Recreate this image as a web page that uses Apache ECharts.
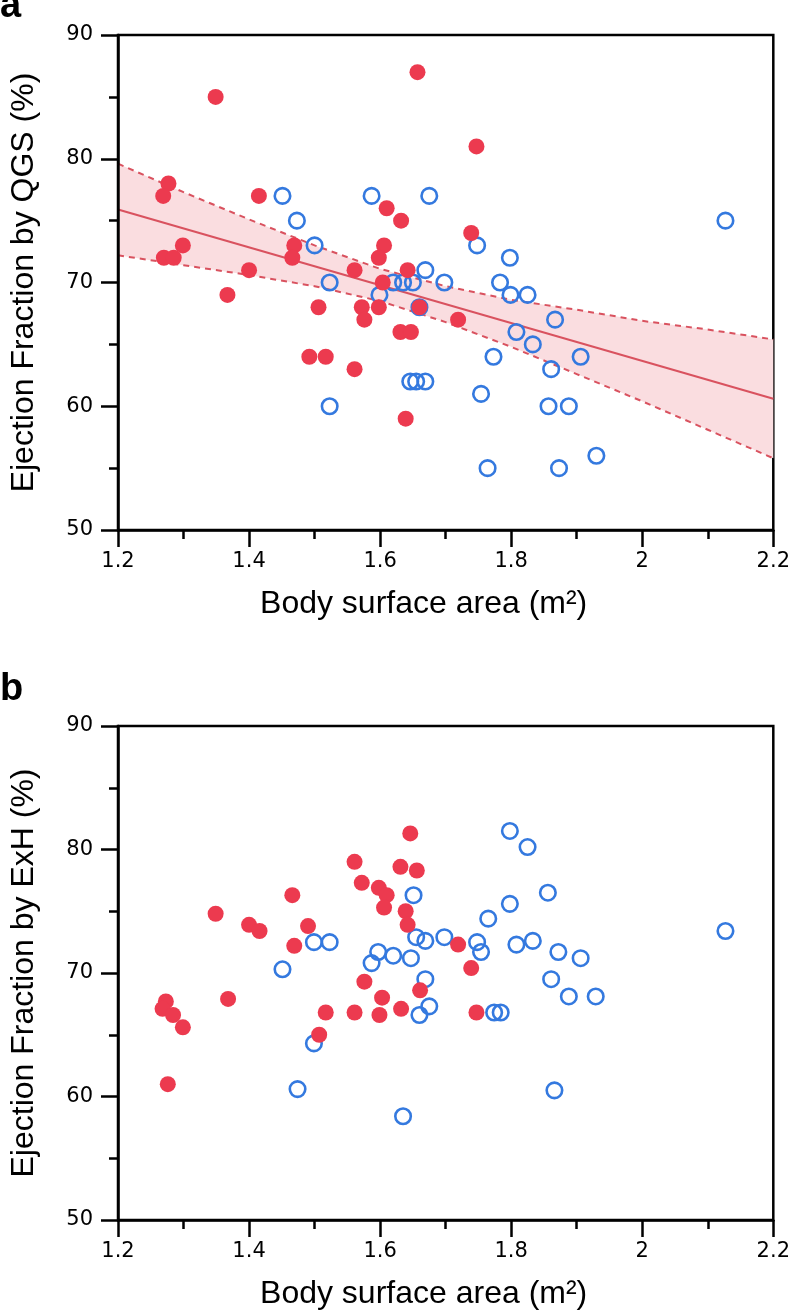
<!DOCTYPE html>
<html><head><meta charset="utf-8">
<script src="https://cdn.jsdelivr.net/npm/echarts@6/dist/echarts.min.js"></script>
<style>html,body{margin:0;padding:0;background:#fff}#c{width:793px;height:1314px}</style>
</head><body><div id="c"></div>
<script>
// ---- tick values ----
const xTickValues = [1.2, 1.4, 1.6, 1.8, 2.0, 2.2];
const yTickValues = [50, 60, 70, 80, 90];

// ---- panel a: EF by QGS ----
const femaleQGS = [
  [1.657,87],[1.349,85],[1.277,78],[1.269,77],[1.415,77],[1.610,76],[1.632,75],
  [1.299,73],[1.469,73],[1.466,72],[1.270,72],[1.285,72],[1.606,73],[1.598,72],
  [1.400,71],[1.561,71],[1.642,71],[1.367,69],[1.604,70],[1.506,68],[1.572,68],
  [1.598,68],[1.660,68],[1.576,67],[1.631,66],[1.647,66],[1.492,64],[1.517,64],
  [1.561,63],[1.639,59],[1.747,81],[1.739,74],[1.719,67]
];
const maleQGS = [
  [1.451,77],[1.587,77],[1.675,77],[1.473,75],[1.500,73],[1.669,71],[1.523,70],
  [1.620,70],[1.635,70],[1.650,70],[1.599,69],[1.660,68],[1.748,73],[1.798,72],
  [1.698,70],[1.783,70],[1.799,69],[1.825,69],[1.867,67],[2.127,75],[1.523,60],
  [1.646,62],[1.655,62],[1.669,62],[1.808,66],[1.833,65],[1.773,64],[1.906,64],
  [1.861,63],[1.754,61],[1.857,60],[1.888,60],[1.930,56],[1.764,55],[1.873,55]
];
// regression line and 95% confidence band
const fitQGS = [[1.2,75.9],[2.2,60.6]];
const ciX = [1.2,1.3,1.4,1.5,1.6,1.7,1.8,1.9,2.0,2.1,2.2];
const ciUpperQGS = [79.6,77.3,75.1,73.0,71.1,69.7,68.6,67.8,66.9,66.2,65.4];
const ciLowerQGS = [72.2,71.4,70.6,69.7,68.5,66.8,64.8,62.6,60.4,58.1,55.8];

// ---- panel b: EF by ExH ----
const femaleExH = [
  [1.646,81.3],[1.561,79.0],[1.631,78.6],[1.656,78.3],[1.572,77.3],[1.598,76.9],
  [1.610,76.3],[1.606,75.3],[1.639,75.0],[1.642,73.9],[1.466,76.3],[1.349,74.8],
  [1.400,73.9],[1.416,73.4],[1.490,73.8],[1.469,72.2],[1.719,72.3],[1.739,70.4],
  [1.576,69.3],[1.661,68.6],[1.603,68.0],[1.273,67.7],[1.268,67.1],[1.368,67.9],
  [1.284,66.6],[1.517,66.8],[1.561,66.8],[1.599,66.6],[1.632,67.1],[1.747,66.8],
  [1.299,65.6],[1.507,65.0],[1.276,61.0]
];
const maleExH = [
  [1.651,76.3],[1.499,72.5],[1.523,72.5],[1.655,72.9],[1.669,72.6],[1.597,71.7],
  [1.620,71.4],[1.647,71.2],[1.587,70.8],[1.451,70.3],[1.698,72.9],[1.798,81.5],
  [1.825,80.2],[1.856,76.5],[1.798,75.6],[1.765,74.4],[1.748,72.5],[1.754,71.7],
  [1.808,72.3],[1.833,72.6],[1.872,71.7],[1.906,71.2],[2.127,73.4],[1.861,69.5],
  [1.669,69.5],[1.888,68.1],[1.929,68.1],[1.675,67.3],[1.660,66.6],[1.774,66.8],
  [1.784,66.8],[1.499,64.3],[1.474,60.6],[1.866,60.5],[1.635,58.4]
];

const xTitle = 'Body surface area (m\u00B2)';
const yTitleA = 'Ejection Fraction by QGS (%)';
const yTitleB = 'Ejection Fraction by ExH (%)';

// ---- styles ----
const RED = '#ec3a4f', BLUE = '#3479df', FIT = '#d9525f', BAND = '#fadde0';
const TITLE_FONT = 'Liberation Sans';
const TICK_FONT = 'DejaVu Sans';

function xAxisDef(gi) {
  return {
    type: 'value', gridIndex: gi, z: 5,
    min: xTickValues[0], max: xTickValues[xTickValues.length - 1],
    interval: xTickValues[1] - xTickValues[0],
    name: xTitle, nameLocation: 'middle', nameGap: 58,
    nameTextStyle: { fontFamily: TITLE_FONT, fontSize: 32, color: '#000', padding: [0, 44, 0, 0] },
    axisLine: { show: true, onZero: false, lineStyle: { color: '#000', width: 2.5 } },
    axisTick: { show: true, length: 17, lineStyle: { color: '#000', width: 2.5 } },
    minorTick: { show: true, splitNumber: 2, length: 9, lineStyle: { color: '#000', width: 2.5 } },
    splitLine: { show: false }, minorSplitLine: { show: false },
    axisLabel: { margin: 21, fontFamily: TICK_FONT, fontSize: 21, color: '#000',
      formatter: v => String(+v.toFixed(1)) }
  };
}
function yAxisDef(gi, title) {
  return {
    type: 'value', gridIndex: gi, z: 5,
    min: yTickValues[0], max: yTickValues[yTickValues.length - 1],
    interval: yTickValues[1] - yTickValues[0],
    name: title, nameLocation: 'middle', nameGap: 78,
    nameTextStyle: { fontFamily: TITLE_FONT, fontSize: 32, color: '#000' },
    axisLine: { show: true, onZero: false, lineStyle: { color: '#000', width: 2.5 } },
    axisTick: { show: true, length: 17, lineStyle: { color: '#000', width: 2.5 } },
    minorTick: { show: true, splitNumber: 2, length: 9, lineStyle: { color: '#000', width: 2.5 } },
    splitLine: { show: false }, minorSplitLine: { show: false },
    axisLabel: { margin: 25, fontFamily: TICK_FONT, fontSize: 21, color: '#000' }
  };
}
function scatter(gi, data, filled, z) {
  return {
    type: 'scatter', xAxisIndex: gi, yAxisIndex: gi, data: data, z: z,
    symbol: 'circle', symbolSize: filled ? 16 : 15.5,
    itemStyle: filled ? { color: RED, opacity: 1 }
                      : { color: 'rgba(255,255,255,0)', borderColor: BLUE, borderWidth: 2.6, opacity: 1 },
    emphasis: { disabled: true }, silent: true
  };
}
const pairs = (xs, ys) => xs.map((x, i) => [x, ys[i]]);

const option = {
  animation: false,
  backgroundColor: '#fff',
  grid: [
    { left: 117, top: 35, width: 662, height: 495, show: true, borderColor: '#000', borderWidth: 2.5, backgroundColor: 'transparent' },
    { left: 117, top: 726, width: 662, height: 494, show: true, borderColor: '#000', borderWidth: 2.5, backgroundColor: 'transparent' }
  ],
  xAxis: [xAxisDef(0), xAxisDef(1)],
  yAxis: [yAxisDef(0, yTitleA), yAxisDef(1, yTitleB)],
  graphic: [
    { type: 'text', left: 0, top: -12, style: { text: 'a', font: 'bold 38px "Liberation Sans"', fill: '#000' } },
    { type: 'text', left: 0, top: 671, style: { text: 'b', font: 'bold 38px "Liberation Sans"', fill: '#000' } }
  ],
  series: [
    { type: 'custom', xAxisIndex: 0, yAxisIndex: 0, data: [[ciX[0], ciLowerQGS[0]]], z: 1, silent: true, clip: true,
      renderItem: (params, api) => {
        const up = ciX.map((x, i) => api.coord([x, ciUpperQGS[i]]));
        const lo = ciX.map((x, i) => api.coord([x, ciLowerQGS[i]])).reverse();
        return { type: 'polygon', shape: { points: up.concat(lo) }, style: { fill: BAND } };
      } },
    { type: 'line', xAxisIndex: 0, yAxisIndex: 0, data: pairs(ciX, ciUpperQGS), symbol: 'none',
      lineStyle: { color: FIT, width: 2, type: [6, 5] }, silent: true, z: 2 },
    { type: 'line', xAxisIndex: 0, yAxisIndex: 0, data: pairs(ciX, ciLowerQGS), symbol: 'none',
      lineStyle: { color: FIT, width: 2, type: [6, 5] }, silent: true, z: 2 },
    { type: 'line', xAxisIndex: 0, yAxisIndex: 0, data: fitQGS, symbol: 'none',
      lineStyle: { color: FIT, width: 2 }, silent: true, z: 2 },
    scatter(0, maleQGS, false, 3),
    scatter(0, femaleQGS, true, 4),
    scatter(1, maleExH, false, 3),
    scatter(1, femaleExH, true, 4)
  ]
};
const chart = echarts.init(document.getElementById('c'), null, { renderer: 'canvas' });
chart.setOption(option);
</script>
</body></html>
